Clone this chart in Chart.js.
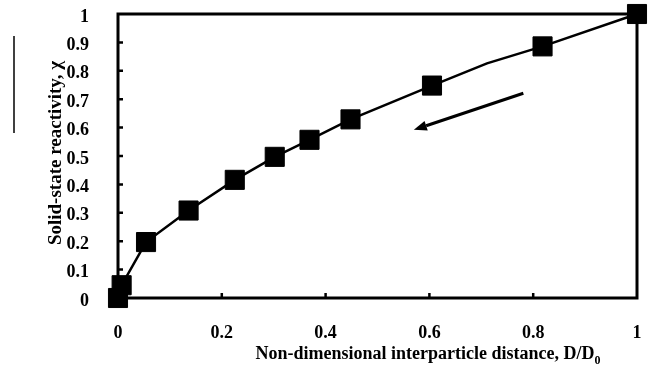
<!DOCTYPE html>
<html>
<head>
<meta charset="utf-8">
<script src="https://cdn.jsdelivr.net/npm/chart.js@4/dist/chart.umd.min.js"></script>
<style>
  html, body { margin: 0; padding: 0; background: #fff; }
  #wrap { width: 651px; height: 374px; }
</style>
</head>
<body>
<div id="wrap"><canvas id="chart"></canvas></div>
<script>
// curve through the data, including one bend without a marker
const lineX = [0, 0.007, 0.054, 0.136, 0.225, 0.302, 0.369, 0.448, 0.605, 0.711, 0.818, 1];
const lineY = [0, 0.045, 0.197, 0.308, 0.416, 0.497, 0.557, 0.629, 0.748, 0.826, 0.886, 1];
// square markers
const markX = [0, 0.007, 0.054, 0.136, 0.225, 0.302, 0.369, 0.448, 0.605, 0.818, 1];
const markY = [0, 0.045, 0.197, 0.308, 0.416, 0.497, 0.557, 0.629, 0.748, 0.886, 1];
// tick labels
const xTicks = ["0", "0.2", "0.4", "0.6", "0.8", "1"];
const yTicks = ["0", "0.1", "0.2", "0.3", "0.4", "0.5", "0.6", "0.7", "0.8", "0.9", "1"];
// arrow in data units: tail -> head
const arrowFrom = [0.781, 0.721];
const arrowTo = [0.57, 0.592];

const serif = "'Liberation Serif', 'Times New Roman', serif";

const framePlugin = {
    id: "frame",
    afterDatasetsDraw(chart) {
        const ctx = chart.ctx;
        const a = chart.chartArea;
        const xs = chart.scales.x, ys = chart.scales.y;
        ctx.save();
        ctx.strokeStyle = "#000";
        ctx.lineWidth = 3;
        ctx.strokeRect(a.left, a.top, a.right - a.left, a.bottom - a.top);

        // inner tick marks
        ctx.lineWidth = 2.5;
        ctx.beginPath();
        for (let i = 1; i < yTicks.length - 1; i++) {
            const py = ys.getPixelForValue(i / 10);
            ctx.moveTo(a.left, py);
            ctx.lineTo(a.left + 5, py);
        }
        for (let i = 1; i < xTicks.length - 1; i++) {
            const px = xs.getPixelForValue(i / 5);
            ctx.moveTo(px, a.bottom);
            ctx.lineTo(px, a.bottom - 5);
        }
        ctx.stroke();

        // arrow
        const x1 = xs.getPixelForValue(arrowFrom[0]), y1 = ys.getPixelForValue(arrowFrom[1]);
        const x2 = xs.getPixelForValue(arrowTo[0]), y2 = ys.getPixelForValue(arrowTo[1]);
        const ang = Math.atan2(y2 - y1, x2 - x1);
        const hl = 13, hw = 5;
        const bx = x2 - hl * Math.cos(ang), by = y2 - hl * Math.sin(ang);
        ctx.lineWidth = 3;
        ctx.beginPath();
        ctx.moveTo(x1, y1);
        ctx.lineTo(bx, by);
        ctx.stroke();
        ctx.fillStyle = "#000";
        ctx.beginPath();
        ctx.moveTo(x2, y2);
        ctx.lineTo(bx + hw * Math.sin(ang), by - hw * Math.cos(ang));
        ctx.lineTo(bx - hw * Math.sin(ang), by + hw * Math.cos(ang));
        ctx.closePath();
        ctx.fill();

        // stray vertical rule at far left
        ctx.lineWidth = 1.5;
        ctx.beginPath();
        ctx.moveTo(14, 36);
        ctx.lineTo(14, 133);
        ctx.stroke();

        // axis titles
        ctx.fillStyle = "#000";
        ctx.textBaseline = "alphabetic";
        const main = "Non-dimensional interparticle distance, D/D";
        ctx.font = "bold 18px " + serif;
        const w1 = ctx.measureText(main).width;
        ctx.font = "bold 12px " + serif;
        const w2 = ctx.measureText("0").width;
        const sx = 428 - (w1 + w2) / 2;
        ctx.textAlign = "left";
        ctx.font = "bold 18px " + serif;
        ctx.fillText(main, sx, 359);
        ctx.font = "bold 12px " + serif;
        ctx.fillText("0", sx + w1, 364);

        ctx.save();
        ctx.translate(61, 153);
        ctx.rotate(-Math.PI / 2);
        ctx.textAlign = "center";
        ctx.font = "bold 19px " + serif;
        ctx.fillText("Solid-state reactivity, \u03c7", 0, 0);
        ctx.restore();
        ctx.restore();
    }
};

const ctx = document.getElementById("chart").getContext("2d");
new Chart(ctx, {
    type: "scatter",
    data: {
        datasets: [
            {
                label: "curve",
                data: lineX.map((x, i) => ({ x: x, y: lineY[i] })),
                showLine: true,
                borderColor: "#000",
                borderWidth: 2.5,
                pointRadius: 0,
                fill: false,
                clip: false
            },
            {
                label: "data",
                data: markX.map((x, i) => ({ x: x, y: markY[i] })),
                showLine: false,
                pointStyle: "rect",
                pointRadius: 13.5,
                backgroundColor: "#000",
                borderColor: "#000",
                borderWidth: 1,
                clip: false
            }
        ]
    },
    options: {
        responsive: true,
        maintainAspectRatio: false,
        animation: false,
        events: [],
        layout: { autoPadding: false, padding: { left: 0, top: 14, right: 14, bottom: 0 } },
        plugins: { legend: { display: false }, tooltip: { enabled: false } },
        scales: {
            x: {
                type: "linear",
                min: 0, max: 1,
                grid: { display: false },
                border: { display: false },
                afterFit: s => { s.height = 76; s.paddingLeft = 0; s.paddingRight = 0; },
                afterBuildTicks: s => { s.ticks = xTicks.map(t => ({ value: parseFloat(t) })); },
                ticks: {
                    padding: 17,
                    color: "#000",
                    font: { family: serif, size: 18, weight: "bold" },
                    maxRotation: 0,
                    callback: (v, i) => xTicks[i]
                }
            },
            y: {
                type: "linear",
                min: 0, max: 1,
                grid: { display: false },
                border: { display: false },
                afterFit: s => { s.width = 118; s.paddingTop = 0; s.paddingBottom = 0; },
                afterBuildTicks: s => { s.ticks = yTicks.map(t => ({ value: parseFloat(t) })); },
                ticks: {
                    padding: 21,
                    labelOffset: 3,
                    color: "#000",
                    font: { family: serif, size: 18, weight: "bold" },
                    callback: (v, i) => yTicks[i]
                }
            }
        }
    },
    plugins: [framePlugin]
});
</script>
</body>
</html>
